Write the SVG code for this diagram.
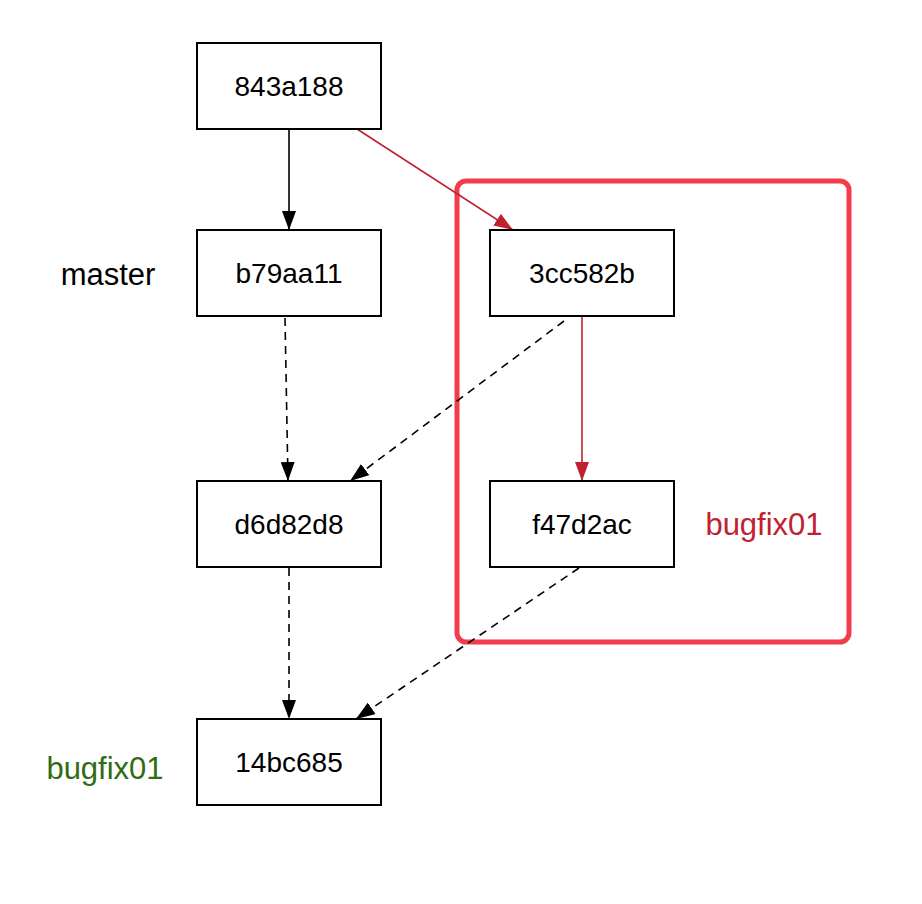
<svg xmlns="http://www.w3.org/2000/svg" width="922" height="904" viewBox="0 0 922 904">
<style>
.node rect{fill:#fff;stroke:#000;stroke-width:2}
.node text{font-family:"Liberation Sans",Arial,sans-serif;font-size:28px;fill:#000;text-anchor:middle}
.lbl{font-family:"Liberation Sans",Arial,sans-serif;font-size:31px;text-anchor:middle}
.blk{stroke:#000;stroke-width:1.6;fill:none}
.red{stroke:#c0212f;stroke-width:1.6;fill:none}
.dash{stroke-dasharray:8 6}
</style>
<defs>
<marker id="ab" markerUnits="userSpaceOnUse" markerWidth="20" markerHeight="14" refX="19" refY="7" orient="auto"><path d="M0,0 L19,7 L0,14 z" fill="#000"/></marker>
<marker id="ar" markerUnits="userSpaceOnUse" markerWidth="20" markerHeight="14" refX="19" refY="7" orient="auto"><path d="M0,0 L19,7 L0,14 z" fill="#c0212f"/></marker>
</defs>
<rect width="922" height="904" fill="#fff"/>
<g id="group-bugfix">
<rect x="457" y="181" width="392" height="461" rx="9" fill="none" stroke="#f23b4b" stroke-width="5"/>
</g>
<g id="connectors">
<line class="blk" x1="289" y1="129" x2="289" y2="230" marker-end="url(#ab)"/>
<line class="red" x1="357" y1="129" x2="513" y2="230" marker-end="url(#ar)"/>
<line class="blk dash" x1="285" y1="318" x2="288" y2="481" marker-end="url(#ab)"/>
<line class="blk dash" x1="564" y1="321" x2="350" y2="481" marker-end="url(#ab)"/>
<line class="red" x1="582" y1="316" x2="582" y2="481" marker-end="url(#ar)"/>
<line class="blk dash" x1="289" y1="568" x2="289" y2="719" marker-end="url(#ab)"/>
<line class="blk dash" x1="579" y1="568" x2="356" y2="719" marker-end="url(#ab)"/>
</g>
<g id="n843a188" class="node"><rect x="197" y="43" width="184" height="86"/><text x="289" y="96">843a188</text></g>
<g id="nb79aa11" class="node"><rect x="197" y="230" width="184" height="86"/><text x="289" y="283">b79aa11</text></g>
<g id="n3cc582b" class="node"><rect x="490" y="230" width="184" height="86"/><text x="582" y="283">3cc582b</text></g>
<g id="nd6d82d8" class="node"><rect x="197" y="481" width="184" height="86"/><text x="289" y="534">d6d82d8</text></g>
<g id="nf47d2ac" class="node"><rect x="490" y="481" width="184" height="86"/><text x="582" y="534">f47d2ac</text></g>
<g id="n14bc685" class="node"><rect x="197" y="719" width="184" height="86"/><text x="289" y="772">14bc685</text></g>
<g id="labels">
<text class="lbl" x="108" y="285" fill="#000">master</text>
<text class="lbl" x="105" y="779" fill="#316b12">bugfix01</text>
<text class="lbl" x="764" y="535" fill="#c0212f">bugfix01</text>
</g>
</svg>
